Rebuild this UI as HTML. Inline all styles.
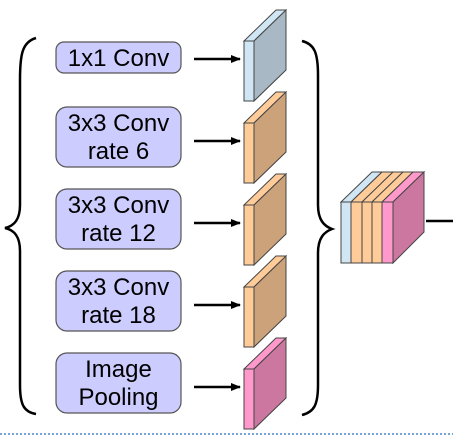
<!DOCTYPE html>
<html><head><meta charset="utf-8"><style>
body{margin:0;background:#fff;width:453px;height:435px;overflow:hidden}
svg{display:block;font-family:"Liberation Sans",sans-serif}
</style></head><body>
<svg width="453" height="435" viewBox="0 0 453 435">
<defs><marker id="ah" markerWidth="10" markerHeight="8" refX="9" refY="4" orient="auto" markerUnits="userSpaceOnUse"><path d="M0,0 L10,4 L0,8 Z" fill="#000"/></marker></defs>
<path d="M36,38 C22,42 20,55 20,80 L20,205 C20,220 14,226 5,228 C14,230 20,236 20,251 L20,385 C20,405 24,412 36,414" fill="none" stroke="#000" stroke-width="2.5"/>
<g fill="#ccccff" stroke="#555" stroke-width="1.2">
<rect x="56" y="42" width="125" height="31" rx="8"/>
<rect x="56" y="107" width="125" height="60" rx="11"/>
<rect x="56" y="189" width="125" height="60" rx="11"/>
<rect x="56" y="271" width="125" height="60" rx="11"/>
<rect x="56" y="353" width="125" height="60" rx="11"/>
</g>
<g font-size="24" text-anchor="middle" fill="#000">
<text x="118.5" y="66">1x1 Conv</text>
<text x="118.5" y="131">3x3 Conv</text><text x="118.5" y="159">rate 6</text>
<text x="118.5" y="213">3x3 Conv</text><text x="118.5" y="241">rate 12</text>
<text x="118.5" y="295">3x3 Conv</text><text x="118.5" y="323">rate 18</text>
<text x="118.5" y="377">Image</text><text x="118.5" y="405">Pooling</text>
</g>
<g stroke="#000" stroke-width="2.5" marker-end="url(#ah)">
<line x1="194" y1="59" x2="240" y2="59"/><line x1="194" y1="141" x2="240" y2="141"/>
<line x1="194" y1="223" x2="240" y2="223"/><line x1="194" y1="305" x2="240" y2="305"/>
<line x1="194" y1="387" x2="240" y2="387"/>
</g>
<g stroke="#444" stroke-width="1">
<g><polygon points="244,41 254,41 286,10 276,10" fill="#d0e6f4"/><polygon points="254,41 286,10 286,70 254,101" fill="#a8b8c4"/><rect x="244" y="41" width="10" height="60" fill="#d0e6f4"/></g>
<g><polygon points="244,123 254,123 286,92 276,92" fill="#ffcc99"/><polygon points="254,123 286,92 286,152 254,183" fill="#cca27a"/><rect x="244" y="123" width="10" height="60" fill="#ffcc99"/></g>
<g><polygon points="244,205 254,205 286,174 276,174" fill="#ffcc99"/><polygon points="254,205 286,174 286,234 254,265" fill="#cca27a"/><rect x="244" y="205" width="10" height="60" fill="#ffcc99"/></g>
<g><polygon points="244,287 254,287 286,256 276,256" fill="#ffcc99"/><polygon points="254,287 286,256 286,316 254,347" fill="#cca27a"/><rect x="244" y="287" width="10" height="60" fill="#ffcc99"/></g>
<g><polygon points="244,369 254,369 286,338 276,338" fill="#ff99cc"/><polygon points="254,369 286,338 286,398 254,429" fill="#cc77a0"/><rect x="244" y="369" width="10" height="60" fill="#ff99cc"/></g>
</g>
<path d="M302,41 C314,44 318,52 318,75 L318,205 C318,220 324,226 332,229 C324,232 318,238 318,253 L318,385 C318,405 314,412 302,415" fill="none" stroke="#000" stroke-width="2.5"/>
<g stroke="#444" stroke-width="1">
<polygon points="341,202 351,202 382,172 372,172" fill="#d0e6f4"/>
<polygon points="351,202 362,202 393,172 382,172" fill="#ffcc99"/>
<polygon points="362,202 372,202 403,172 393,172" fill="#ffcc99"/>
<polygon points="372,202 382,202 413,172 403,172" fill="#ffcc99"/>
<polygon points="382,202 393,202 424,172 413,172" fill="#ff99cc"/>
<polygon points="393,202 424,172 424,232 393,263" fill="#cc77a0"/>
<rect x="341" y="202" width="10" height="61" fill="#d0e6f4"/>
<rect x="351" y="202" width="11" height="61" fill="#ffcc99"/>
<rect x="362" y="202" width="10" height="61" fill="#ffcc99"/>
<rect x="372" y="202" width="10" height="61" fill="#ffcc99"/>
<rect x="382" y="202" width="11" height="61" fill="#ff99cc"/>
</g>
<line x1="426" y1="221" x2="453" y2="221" stroke="#000" stroke-width="2.5"/>
<line x1="0" y1="434" x2="453" y2="434" stroke="#4a86c8" stroke-width="1.5" stroke-dasharray="2,2"/>
</svg>
</body></html>
